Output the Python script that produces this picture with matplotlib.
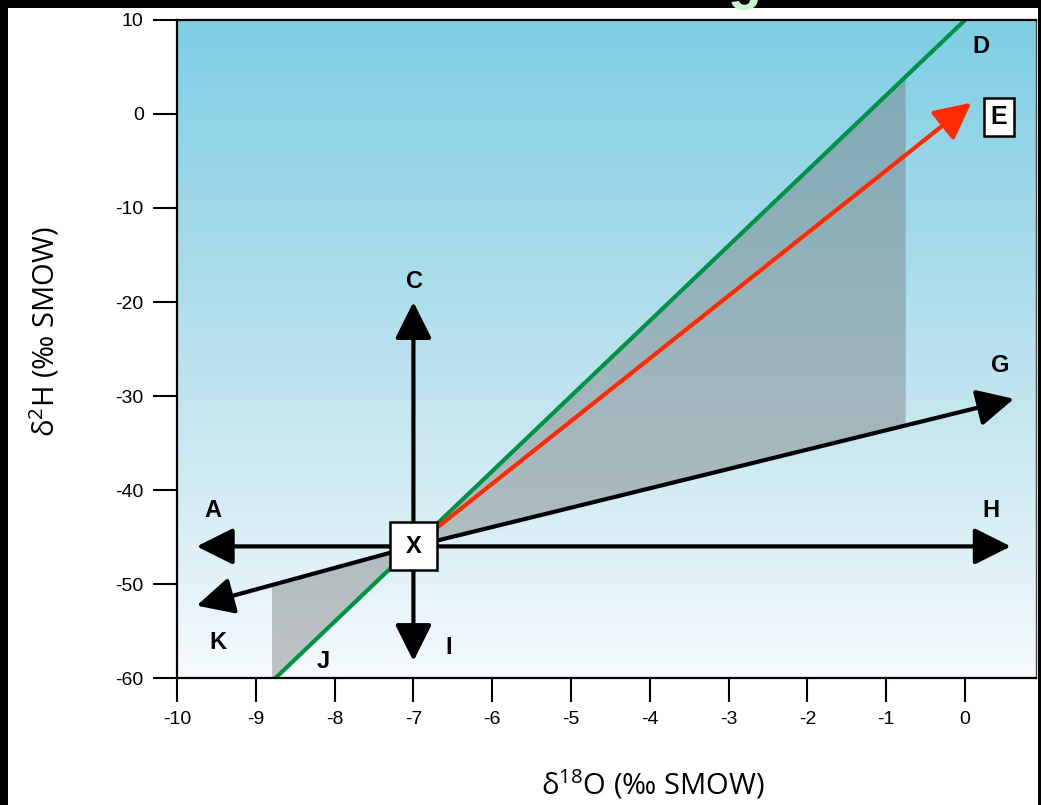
import numpy as np
import matplotlib
matplotlib.use("Agg")
import matplotlib.pyplot as plt
from matplotlib.patches import Rectangle
from matplotlib.colors import LinearSegmentedColormap

plt.rcParams['mathtext.fontset'] = 'custom'
plt.rcParams['mathtext.rm'] = 'Open Sans'
plt.rcParams['mathtext.default'] = 'regular'
plt.rcParams['axes.unicode_minus'] = False

# data (delta18O, delta2H)
origin = (-7.0, -46.0)
arrow_names = ['A', 'H', 'C', 'I', 'G', 'K']
arrow_tip_x = [-9.75, 0.58, -7.0, -7.0, 0.62, -9.75]
arrow_tip_y = [-46.0, -46.0, -20.0, -58.2, -30.3, -52.3]
evap_tip = (0.08, 1.2)          # red arrow E
gmwl_slope, gmwl_intercept = 8.0, 10.0   # green line D/J
shade_x = [-8.8, -0.76]

label_names = ['A', 'C', 'D', 'G', 'H', 'I', 'J', 'K']
label_x = [-9.55, -6.98, 0.2, 0.45, 0.33, -6.55, -8.15, -9.48]
label_y = [-42.2, -17.8, 7.2, -26.8, -42.2, -56.8, -58.2, -56.2]

xticks = list(range(-10, 1))
yticks = list(range(-60, 11, 10))

fig = plt.figure(figsize=(10.41, 8.05), dpi=100)
fig.patch.set_facecolor('white')
ax = fig.add_axes([177/1041, 1-678/805, (1036-177)/1041, 658/805])
xmin, xmax, ymin, ymax = -10, 0.9, -60, 10

# background gradient
cmap = LinearSegmentedColormap.from_list('bg', ['#f5fafd', '#b8e1ed', '#7ecee4'])
grad = np.linspace(0, 1, 256).reshape(-1, 1)
ax.imshow(grad, extent=[xmin, xmax, ymin, ymax], origin='lower', aspect='auto',
          cmap=cmap, zorder=0)

ox, oy = origin
slope_g = (arrow_tip_y[4] - oy) / (arrow_tip_x[4] - ox)
slope_k = (arrow_tip_y[5] - oy) / (arrow_tip_x[5] - ox)

# shaded regions
xs_low = np.linspace(shade_x[0], ox, 50)
ax.fill_between(xs_low, gmwl_slope*xs_low + gmwl_intercept, oy + slope_k*(xs_low - ox),
                color='#707070', alpha=0.4, lw=0, zorder=1)
xs_up = np.linspace(ox, shade_x[1], 50)
ax.fill_between(xs_up, oy + slope_g*(xs_up - ox), gmwl_slope*xs_up + gmwl_intercept,
                color='#707070', alpha=0.4, lw=0, zorder=1)

# meteoric water line
gx = np.array([xmin, xmax])
ax.plot(gx, gmwl_slope*gx + gmwl_intercept, color='#009245', lw=3, zorder=2,
        solid_capstyle='butt')

style = "-|>,head_length=0.9,head_width=0.45"
ax.annotate('', xy=evap_tip, xytext=origin,
            arrowprops=dict(arrowstyle=style, color='#ff2a00', lw=3,
                            mutation_scale=25, shrinkA=0, shrinkB=0), zorder=3)
for tx, ty in zip(arrow_tip_x, arrow_tip_y):
    ax.annotate('', xy=(tx, ty), xytext=origin,
                arrowprops=dict(arrowstyle=style, color='black', lw=3,
                                mutation_scale=25, shrinkA=0, shrinkB=0), zorder=3)

# X box
bw, bh = 0.6, 5.1
ax.add_patch(Rectangle((ox - bw/2, oy - bh/2), bw, bh, facecolor='white',
                       edgecolor='black', lw=1.8, zorder=4))
ax.text(ox, oy, 'X', ha='center', va='center', fontsize=17, fontweight='bold',
        family='Liberation Sans', zorder=5)

for name, lx, ly in zip(label_names, label_x, label_y):
    ax.text(lx, ly, name, ha='center', va='center', fontsize=17, fontweight='bold',
            family='Liberation Sans', zorder=5)
ax.text(0.43, -0.3, 'E', ha='center', va='center', fontsize=18, fontweight='bold',
        family='Liberation Sans', zorder=5,
        bbox=dict(boxstyle='square,pad=0.28', facecolor='white', edgecolor='black', lw=1.8))

ax.set_xlim(xmin, xmax)
ax.set_ylim(ymin, ymax)
ax.set_xticks(xticks)
ax.set_yticks(yticks)
ax.tick_params(length=17, width=1.5, direction='out', pad=7, labelsize=14)
for lab in ax.get_xticklabels() + ax.get_yticklabels():
    lab.set_family('Liberation Sans')
for s in ['left', 'bottom', 'top']:
    ax.spines[s].set_linewidth(1.6)
ax.spines['right'].set_linewidth(1.0)
ax.spines['right'].set_color('#444444')

fig.text(653/1041, 1-785/805, 'δ$^{18}$O (‰ SMOW)', ha='center', va='center',
         fontsize=21, family='Open Sans')
fig.text(45/1041, 1-332/805, 'δ$^{2}$H (‰ SMOW)', ha='center', va='center',
         fontsize=21, family='Open Sans', rotation=90)

# black frame strips
fig.add_artist(Rectangle((0, 1-8/805), 1, 8/805, transform=fig.transFigure,
                         facecolor='black', lw=0, zorder=10))
fig.add_artist(Rectangle((0, 0), 8/1041, 1, transform=fig.transFigure,
                         facecolor='black', lw=0, zorder=10))
fig.add_artist(Rectangle((1038/1041, 0), 3/1041, 1, transform=fig.transFigure,
                         facecolor='black', lw=0, zorder=10))
fig.text(745/1041, 1 + 2/805, 'g', ha='center', va='baseline', fontsize=40,
         fontweight='bold', color='#c8f5d2', family='Liberation Sans', zorder=11)

fig.savefig('out.png', dpi=100)
